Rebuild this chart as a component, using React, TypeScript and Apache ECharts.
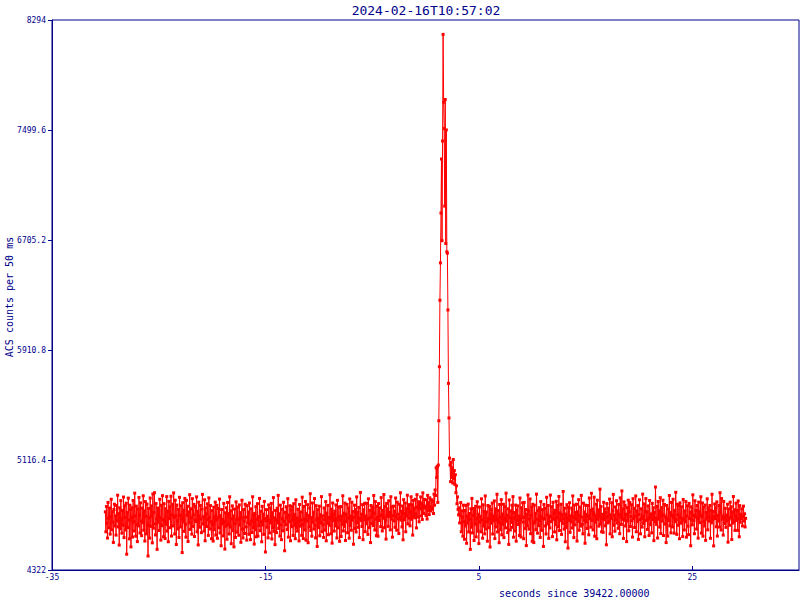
import React, { useEffect, useRef } from "react";
import * as echarts from "echarts";

const TITLE = "2024-02-16T10:57:02";
const X_NAME = "seconds since 39422.00000";
const Y_NAME = "ACS counts per 50 ms";
const T_START = -30.0;
const T_STEP = 0.05;
const X_MIN = -35;
const X_MAX = 35;
const X_INTERVAL = 20;
const Y_MIN = 4322;
const Y_MAX = 8294;
const Y_INTERVAL = 794.4;

// t = -30.00 .. 0.60
const PRE_BURST = [
  4742,4598,4781,4660,4553,4810,4695,4627,4769,4581,
  4706,4833,4612,4744,4668,4521,4759,4797,4640,4713,
  4574,4788,4676,4862,4633,4729,4502,4771,4619,4823,
  4690,4588,4751,4645,4849,4556,4786,4702,4611,4804,
  4436,4737,4629,4841,4683,4547,4790,4758,4489,4701,
  4772,4560,4824,4671,4604,4877,4712,4566,4783,4650,
  4527,4763,4641,4846,4718,4589,4807,4676,4570,4769,
  4664,4858,4609,4749,4531,4816,4710,4583,4798,4646,
  4423,4767,4700,4552,4842,4637,4785,4712,4518,4871,
  4624,4738,4880,4655,4575,4802,4689,4471,4770,4667,
  4751,4607,4833,4698,4538,4789,4642,4859,4686,4562,
  4801,4671,4549,4765,4651,4852,4603,4747,4526,4818,
  4693,4778,4628,4855,4567,4721,4797,4640,4879,4702,
  4582,4826,4714,4506,4791,4676,4619,4760,4557,4847,
  4716,4633,4786,4690,4448,4808,4669,4754,4601,4839,
  4652,4559,4825,4718,4782,4528,4742,4663,4866,4615,
  4764,4699,4581,4837,4637,4719,4796,4564,4684,4781,
  4672,4850,4598,4746,4503,4812,4711,4631,4788,4690,
  4592,4761,4868,4654,4707,4603,4829,4533,4771,4726,
  4636,4800,4688,4572,4843,4701,4618,4787,4670,4548,
  4751,4650,4531,4776,4613,4705,4812,4574,4684,4789,
  4551,4699,4766,4627,4834,4590,4715,4497,4759,4657,
  4688,4568,4803,4670,4473,4735,4639,4772,4544,4810,
  4651,4729,4582,4851,4632,4749,4512,4692,4785,4606,
  4713,4489,4762,4658,4557,4814,4685,4595,4776,4690,
  4573,4792,4647,4737,4522,4699,4826,4618,4553,4758,
  4675,4586,4797,4703,4634,4538,4787,4663,4741,4580,
  4806,4652,4541,4764,4675,4593,4851,4629,4719,4509,
  4731,4613,4779,4562,4688,4801,4567,4708,4644,4839,
  4606,4746,4670,4526,4782,4648,4725,4579,4817,4693,
  4452,4677,4758,4631,4710,4554,4792,4681,4590,4770,
  4662,4803,4546,4736,4628,4845,4601,4699,4505,4752,
  4685,4592,4768,4663,4861,4622,4728,4567,4790,4648,
  4541,4762,4693,4605,4811,4674,4461,4738,4649,4779,
  4700,4614,4837,4559,4718,4672,4786,4533,4757,4635,
  4780,4681,4571,4801,4646,4722,4548,4829,4626,4698,
  4603,4761,4673,4532,4795,4639,4741,4681,4572,4848,
  4650,4549,4781,4689,4611,4817,4537,4729,4676,4794,
  4519,4716,4632,4769,4873,4607,4700,4566,4806,4667,
  4739,4618,4838,4645,4554,4787,4684,4492,4758,4694,
  4628,4783,4569,4722,4661,4852,4598,4713,4649,4557,
  4770,4686,4610,4816,4533,4733,4659,4789,4577,4702,
  4645,4866,4697,4584,4761,4516,4806,4680,4727,4603,
  4747,4640,4792,4688,4553,4825,4626,4706,4777,4529,
  4682,4780,4564,4711,4651,4858,4604,4732,4637,4805,
  4535,4724,4671,4796,4591,4697,4771,4552,4835,4642,
  4711,4609,4811,4682,4744,4508,4703,4790,4621,4758,
  4597,4850,4663,4739,4630,4774,4556,4696,4882,4680,
  4725,4636,4794,4541,4758,4684,4804,4599,4712,4656,
  4804,4689,4579,4836,4697,4628,4753,4520,4788,4705,
  4658,4776,4642,4860,4732,4611,4816,4690,4570,4783,
  4701,4566,4802,4679,4770,4713,4635,4845,4721,4604,
  4752,4696,4867,4627,4781,4682,4545,4803,4709,4764,
  4637,4822,4710,4738,4612,4851,4689,4779,4559,4715,
  4783,4677,4747,4630,4842,4708,4609,4812,4724,4691,
  4585,4797,4702,4880,4682,4746,4633,4784,4540,4830,
  4729,4684,4806,4598,4765,4712,4862,4655,4781,4697,
  4794,4641,4740,4851,4688,4793,4574,4825,4711,4770,
  4699,4833,4727,4626,4866,4775,4704,4815,4670,4797,
  4764,4850,4712,4806,4687,4879,4785,4730,4832,4771,
  4782,4716,4829,4690,4861,4751,4808,4722,4843,4776,
  4748,4830,4765,
];

// t = 0.65 .. 3.10
const BURST = [
  4760,4820,4730,4870,4790,4900,4860,5060,4990,5070,
  4810,5080,5400,5790,6270,6540,6900,7290,6700,7420,
  8190,7700,7510,6950,7720,6680,7500,6620,6610,6200,
  5670,5420,5130,5080,4960,5100,4990,5060,4950,5120,
  4980,5040,4940,5010,4880,4930,4800,4850,4760,4720,
];

// t = 3.15 .. 30.00
const POST_BURST = [
  4771,4662,4718,4809,4598,4749,4703,4566,4790,4671,
  4544,4752,4640,4789,4515,4712,4661,4798,4597,4730,
  4687,4471,4764,4631,4839,4590,4717,4766,4535,4752,
  4653,4782,4561,4695,4815,4602,4724,4513,4777,4668,
  4709,4598,4836,4684,4552,4793,4640,4745,4583,4857,
  4618,4741,4671,4530,4788,4692,4627,4781,4488,4726,
  4758,4660,4805,4582,4712,4679,4821,4549,4764,4633,
  4686,4869,4597,4751,4668,4519,4795,4704,4613,4830,
  4576,4726,4652,4797,4556,4689,4779,4626,4877,4674,
  4717,4593,4764,4507,4828,4700,4611,4749,4665,4790,
  4630,4852,4559,4737,4696,4604,4791,4530,4755,4676,
  4785,4651,4711,4571,4842,4684,4560,4772,4698,4807,
  4668,4548,4810,4703,4622,4759,4498,4725,4640,4864,
  4748,4617,4690,4835,4584,4717,4777,4529,4797,4659,
  4520,4790,4670,4731,4612,4870,4689,4588,4751,4643,
  4772,4678,4557,4816,4706,4608,4758,4693,4492,4795,
  4691,4769,4640,4582,4847,4721,4655,4788,4551,4712,
  4626,4863,4705,4672,4779,4563,4811,4688,4735,4597,
  4753,4650,4818,4540,4701,4790,4634,4853,4607,4734,
  4680,4797,4579,4721,4659,4889,4692,4617,4769,4526,
  4725,4628,4794,4699,4480,4776,4681,4808,4594,4713,
  4670,4769,4625,4857,4705,4556,4791,4648,4737,4690,
  4797,4531,4743,4673,4830,4609,4714,4776,4639,4861,
  4704,4652,4583,4805,4681,4741,4515,4790,4669,4722,
  4622,4788,4711,4576,4842,4693,4753,4631,4876,4680,
  4762,4612,4735,4848,4566,4716,4667,4797,4548,4826,
  4688,4757,4639,4711,4906,4654,4781,4598,4724,4694,
  4594,4811,4687,4763,4641,4739,4504,4802,4706,4662,
  4768,4673,4834,4583,4720,4695,4808,4562,4751,4868,
  4645,4719,4602,4777,4684,4822,4661,4749,4623,4795,
  4722,4584,4843,4703,4651,4893,4688,4762,4550,4814,
  4681,4790,4640,4725,4527,4773,4676,4826,4605,4741,
  4809,4636,4708,4793,4679,4560,4837,4694,4767,4629,
  4710,4857,4598,4748,4672,4787,4543,4723,4829,4686,
  4583,4764,4695,4632,4870,4712,4658,4799,4562,4746,
  4838,4680,4741,4615,4785,4692,4571,4824,4706,4649,
  4727,4590,4803,4687,4772,4534,4739,4672,4921,4696,
  4651,4781,4553,4817,4689,4749,4632,4844,4585,4711,
  4773,4676,4826,4571,4718,4796,4654,4705,4520,4788,
  4695,4567,4764,4678,4860,4641,4737,4590,4810,4716,
  4633,4833,4700,4588,4752,4671,4883,4687,4579,4797,
  4720,4645,4788,4548,4807,4701,4660,4779,4680,4563,
  4831,4692,4611,4749,4670,4816,4559,4712,4786,4639,
  4577,4803,4694,4740,4497,4779,4684,4648,4865,4718,
  4679,4584,4822,4704,4752,4618,4788,4690,4552,4812,
  4743,4664,4720,4851,4588,4708,4806,4566,4777,4671,
  4640,4791,4536,4737,4689,4836,4612,4770,4703,4675,
  4788,4551,4751,4663,4869,4682,4745,4496,4708,4799,
  4693,4772,4634,4814,4567,4717,4676,4789,4632,4880,
  4738,4611,4838,4690,4712,4574,4817,4701,4658,4768,
  4630,4719,4677,4797,4523,4763,4691,4645,4812,4700,
  4779,4542,4741,4661,4853,4675,4757,4608,4711,4805,
  4680,4752,4608,4821,4693,4562,4787,4666,4724,4691,
  4764,4640,4709,4783,4676,4728,4633,4695,
];

const NAVY = "#00008b";
const RED = "#ff0000";
const MONO = "DejaVu Sans Mono, Liberation Mono, monospace";

export default function App() {
  const ref = useRef<HTMLDivElement>(null);

  useEffect(() => {
    if (!ref.current) return;
    const chart = echarts.init(ref.current, undefined, { renderer: "svg" });
    const counts = [...PRE_BURST, ...BURST, ...POST_BURST];
    const data = counts.map((v, i) => [Number((T_START + i * T_STEP).toFixed(2)), v]);

    chart.setOption({
      animation: false,
      backgroundColor: "#ffffff",
      title: {
        text: TITLE,
        left: 421,
        top: -1,
        textAlign: "center",
        textStyle: { color: NAVY, fontFamily: MONO, fontSize: 13, fontWeight: "normal" },
      },
      grid: {
        left: 52,
        right: 1,
        top: 20,
        bottom: 30,
        containLabel: false,
        outerBoundsMode: "none",
        show: true,
        borderColor: NAVY,
        borderWidth: 1,
        backgroundColor: "transparent",
      },
      xAxis: {
        type: "value",
        min: X_MIN,
        max: X_MAX,
        interval: X_INTERVAL,
        axisLine: { show: true, onZero: false, lineStyle: { color: NAVY, width: 1 } },
        axisTick: { show: true, inside: true, length: 4, lineStyle: { color: NAVY } },
        axisLabel: {
          color: NAVY,
          fontFamily: MONO,
          fontSize: 8,
          margin: 3,
          showMaxLabel: false,
        },
        splitLine: { show: false },
      },
      yAxis: {
        type: "value",
        min: Y_MIN,
        max: Y_MAX,
        interval: Y_INTERVAL,
        axisLine: { show: true, onZero: false, lineStyle: { color: NAVY, width: 1 } },
        axisTick: { show: true, inside: false, length: 4, lineStyle: { color: NAVY } },
        axisLabel: {
          color: NAVY,
          fontFamily: MONO,
          fontSize: 8,
          margin: 6,
          formatter: (v: number) => String(Number(v.toFixed(1))),
        },
        splitLine: { show: false },
      },
      graphic: [
        {
          type: "text",
          left: 499,
          top: 588,
          style: { text: X_NAME, fill: NAVY, font: `10px ${MONO}` },
        },
        {
          type: "text",
          x: 9,
          y: 297,
          rotation: Math.PI / 2,
          style: {
            text: Y_NAME,
            fill: NAVY,
            font: `10px ${MONO}`,
            align: "center",
            verticalAlign: "middle",
          },
        },
      ],
      series: [
        {
          type: "line",
          data,
          symbol: "rect",
          symbolSize: 3,
          showSymbol: true,
          lineStyle: { color: RED, width: 1 },
          itemStyle: { color: RED },
          emphasis: { disabled: true },
        },
      ],
    });

    return () => chart.dispose();
  }, []);

  return (
    <div
      ref={ref}
      style={{ position: "fixed", left: 0, top: 0, width: 800, height: 600, background: "#fff" }}
    />
  );
}
